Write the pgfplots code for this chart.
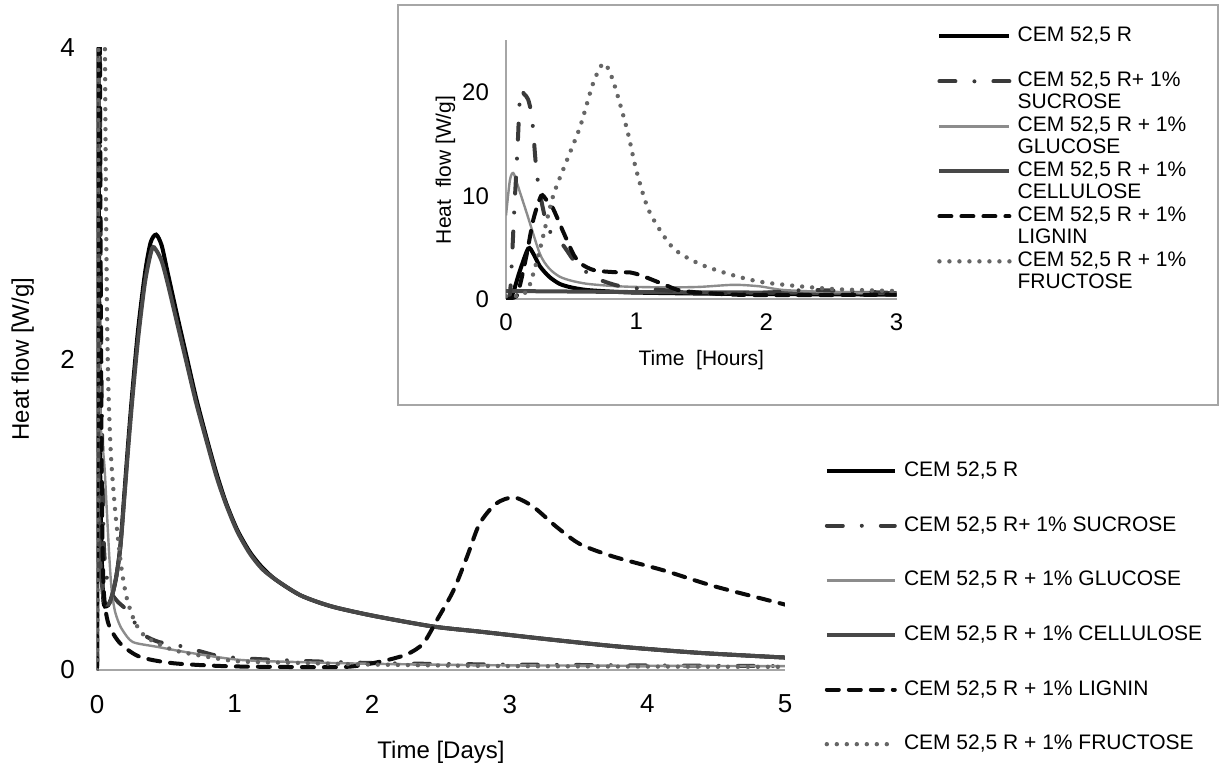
\documentclass[border=0pt]{standalone}
\usepackage{fontspec}
\setmainfont{Liberation Sans}
\usepackage{pgfplots}
\pgfplotsset{compat=1.18}
\definecolor{cSuc}{HTML}{3A3A3A}
\definecolor{cGlu}{HTML}{8C8C8C}
\definecolor{cCel}{HTML}{484848}
\definecolor{cLig}{HTML}{0A0A0A}
\definecolor{cFru}{HTML}{666666}
\definecolor{cAxis}{HTML}{A6A6A6}

\pgfplotsset{
  sCem/.style={black,line width=2pt},
  sSuc/.style={cSuc,line width=2pt,line cap=round,dash pattern=on 8pt off 9.5pt on 0pt off 9.5pt},
  sGlu/.style={cGlu,line width=1.2pt},
  sCel/.style={cCel,line width=2pt},
  sLig/.style={cLig,line width=2pt,line cap=round,dash pattern=on 6pt off 5pt},
  sFru/.style={cFru,line width=2.2pt,line cap=round,dash pattern=on 0pt off 5pt},
}

\begin{document}
\begin{tikzpicture}
\useasboundingbox (-48.5pt,-53pt) rectangle (562pt,335pt);

% main chart, days
\begin{axis}[name=main,at={(0pt,0pt)},anchor=south west,scale only axis,
    width=344pt,height=311pt,
    xmin=0,xmax=5,ymin=0,ymax=4,
    xtick={0,...,5},ytick={0,2,4},
    axis x line*=bottom,axis y line*=left,
    axis line style={draw=cAxis,line width=0.8pt},
    major tick length=0pt,
    /pgf/number format/assume math mode=true,
    tick label style={font=\fontsize{13}{15}\selectfont},
    xticklabel style={yshift=-9pt},
    yticklabel style={xshift=-7.5pt},
    xlabel={Time [Days]},ylabel={Heat flow [W/g]},
    label style={font=\fontsize{12}{14}\selectfont},
    xlabel style={at={(axis description cs:0.5,-0.132)},anchor=center},
    ylabel style={at={(axis description cs:-0.108,0.5)},anchor=center},
    every axis plot/.append style={smooth,tension=0.45},
    legend cell align=left,
    legend image code/.code={\draw[#1] (0pt,0pt) -- (34pt,0pt);},
    legend style={at={(axis description cs:1.057,0.342)},anchor=north west,
        draw=none,fill=none,inner sep=0pt,row sep=13.8pt,column sep=2pt,
        font=\fontsize{10.5}{12}\selectfont,
        nodes={inner xsep=1.5pt,inner ysep=1.5pt,text height=8pt,text depth=2.5pt}},
]
\addplot[sCem] coordinates {(0,0)(0.002,3)(0.007,4.9)(0.012,3.5)(0.02,1.6)(0.03,0.9)(0.046,0.45)(0.07,0.41)(0.09,0.43)(0.11,0.48)(0.14,0.6)(0.17,0.8)(0.2,1.15)(0.23,1.5)(0.26,1.82)(0.3,2.2)(0.35,2.56)(0.39,2.75)(0.43,2.8)(0.47,2.73)(0.51,2.57)(0.58,2.29)(0.65,2.02)(0.72,1.75)(0.8,1.48)(0.87,1.26)(0.94,1.07)(1.02,0.9)(1.11,0.76)(1.2,0.66)(1.3,0.58)(1.48,0.48)(1.7,0.41)(2.0,0.35)(2.44,0.28)(2.8,0.245)(3.15,0.21)(3.41,0.185)(3.8,0.15)(4.38,0.11)(5,0.08)};
\addlegendentry{CEM 52,5 R}
\addplot[sSuc] coordinates {(0,0)(0.0035,15)(0.0046,20)(0.007,19.5)(0.0085,17.5)(0.0098,12.3)(0.014,6.6)(0.018,5)(0.023,3.3)(0.03,2.2)(0.04,1.3)(0.05,0.8)(0.07,0.6)(0.1,0.5)(0.15,0.44)(0.2,0.4)(0.24,0.36)(0.29,0.28)(0.35,0.22)(0.45,0.18)(0.58,0.16)(0.75,0.12)(0.92,0.085)(1.3,0.065)(2,0.045)(3,0.035)(5,0.025)};
\addlegendentry{CEM 52,5 R+ 1\% SUCROSE}
\addplot[sGlu] coordinates {(0,0)(0.001,8)(0.0025,12)(0.006,9)(0.011,4.4)(0.017,2.2)(0.026,1.6)(0.04,1.45)(0.055,1.3)(0.07,1.05)(0.09,0.72)(0.107,0.51)(0.13,0.38)(0.16,0.3)(0.19,0.25)(0.26,0.18)(0.43,0.15)(0.68,0.11)(1.04,0.065)(1.5,0.05)(2,0.04)(3,0.03)(5,0.025)};
\addlegendentry{CEM 52,5 R + 1\% GLUCOSE}
\addplot[sCel] coordinates {(0,0)(0.002,4.5)(0.008,1.8)(0.02,0.8)(0.046,0.47)(0.07,0.42)(0.09,0.43)(0.11,0.48)(0.14,0.6)(0.17,0.79)(0.2,1.12)(0.23,1.46)(0.26,1.77)(0.3,2.14)(0.35,2.5)(0.4,2.71)(0.43,2.7)(0.47,2.63)(0.51,2.5)(0.58,2.24)(0.65,1.98)(0.72,1.72)(0.8,1.46)(0.87,1.24)(0.94,1.06)(1.02,0.89)(1.11,0.75)(1.2,0.65)(1.3,0.58)(1.48,0.48)(1.7,0.41)(2.0,0.35)(2.44,0.28)(2.8,0.245)(3.15,0.21)(3.41,0.185)(3.8,0.15)(4.38,0.11)(5,0.08)};
\addlegendentry{CEM 52,5 R + 1\% CELLULOSE}
\addplot[sLig] coordinates {(0,0)(0.004,4)(0.011,10)(0.016,6)(0.025,3)(0.035,1.2)(0.045,0.6)(0.06,0.4)(0.09,0.28)(0.17,0.17)(0.31,0.085)(0.55,0.044)(0.92,0.025)(1.3,0.02)(1.81,0.02)(2.06,0.054)(2.25,0.1)(2.37,0.17)(2.47,0.32)(2.59,0.51)(2.69,0.73)(2.78,0.94)(2.9,1.07)(3.03,1.11)(3.17,1.05)(3.34,0.92)(3.51,0.81)(3.75,0.73)(4.12,0.64)(4.48,0.54)(4.96,0.43)(5,0.42)};
\addlegendentry{CEM 52,5 R + 1\% LIGNIN}
\addplot[sFru] coordinates {(0,0)(0.0075,1.5)(0.015,9)(0.02,13.5)(0.028,20.9)(0.031,22.8)(0.034,21.2)(0.039,16.4)(0.042,12.5)(0.046,8.5)(0.053,5)(0.062,3.4)(0.073,2.3)(0.083,1.8)(0.1,1.4)(0.12,1.15)(0.14,0.95)(0.18,0.64)(0.22,0.45)(0.28,0.3)(0.36,0.21)(0.55,0.13)(0.8,0.085)(1.04,0.055)(1.5,0.045)(2,0.035)(3,0.025)(5,0.02)};
\addlegendentry{CEM 52,5 R + 1\% FRUCTOSE}
\end{axis}

% inset frame
\draw[cAxis,line width=1pt,fill=white] (150.5pt,132.5pt) rectangle (560.5pt,332.5pt);

% inset chart, hours
\begin{axis}[name=inset,at={(204.5pt,185.35pt)},anchor=south west,scale only axis,
    width=195.3pt,height=129.4pt,
    xmin=0,xmax=3,ymin=0,ymax=25,
    xtick={0,1,2,3},ytick={0,10,20},
    axis x line*=bottom,axis y line*=left,
    axis line style={draw=cAxis,line width=0.8pt},
    major tick length=0pt,
    /pgf/number format/assume math mode=true,
    tick label style={font=\fontsize{12}{14}\selectfont},
    xticklabel style={yshift=-3.5pt},
    yticklabel style={xshift=-5pt},
    xlabel={Time\ \ [Hours]},ylabel={Heat\ \ flow [W/g]},
    label style={font=\fontsize{10.5}{12}\selectfont},
    xlabel style={at={(axis description cs:0.5,-0.235)},anchor=center},
    ylabel style={at={(axis description cs:-0.155,0.5)},anchor=center},
    every axis plot/.append style={smooth,tension=0.45},
    legend cell align=left,
    legend image code/.code={\draw[#1] (0pt,0pt) -- (35pt,0pt);},
    legend style={at={(axis description cs:1.103,1.061)},anchor=north west,
        draw=none,fill=none,inner sep=0pt,row sep=0pt,column sep=1.5pt,
        font=\fontsize{10.5}{12}\selectfont,
        nodes={inner xsep=1.5pt,inner ysep=0pt,text height=8pt,text depth=3.25pt}},
]
\addplot[sCem,forget plot] coordinates {(0,0)(0.05,0.5)(0.1,2.5)(0.17,4.9)(0.21,4.4)(0.26,3.2)(0.33,2.2)(0.41,1.5)(0.5,1.15)(0.62,0.9)(0.8,0.75)(0.98,0.65)(1.5,0.55)(2,0.5)(3,0.45)};
\addplot[sCel,forget plot] coordinates {(0,0.8)(0.5,0.75)(1,0.7)(2,0.65)(3,0.6)};
\addplot[sGlu,forget plot] coordinates {(0,8.1)(0.03,11.5)(0.056,12.2)(0.09,11)(0.16,8.3)(0.26,4.4)(0.33,3.0)(0.41,2.2)(0.5,1.8)(0.62,1.5)(0.8,1.3)(0.98,1.2)(1.25,1.15)(1.49,1.2)(1.75,1.4)(1.95,1.25)(2.13,0.9)(2.5,0.7)(3,0.6)};
\addplot[sSuc,forget plot] coordinates {(0,0)(0.03,0.5)(0.05,5)(0.065,9)(0.077,11.8)(0.09,15)(0.11,20)(0.14,19.8)(0.17,19.3)(0.2,17.5)(0.235,12.3)(0.28,9)(0.33,6.7)(0.44,5.2)(0.55,3.3)(0.7,2)(0.9,1.2)(1.2,0.9)(1.5,0.6)(2,0.65)(2.3,0.9)(2.6,0.8)(3,0.6)};
\addplot[sLig,forget plot] coordinates {(0,0)(0.08,0.3)(0.11,1.5)(0.16,4.4)(0.21,7.7)(0.27,10)(0.31,9.6)(0.36,8.8)(0.44,6.5)(0.52,4.3)(0.58,3.4)(0.68,2.8)(0.86,2.6)(0.95,2.6)(1.04,2.3)(1.22,1.4)(1.36,0.8)(1.75,0.45)(2.2,0.4)(3,0.45)};
\addplot[sFru,forget plot] coordinates {(0,0.3)(0.12,0.4)(0.18,1.3)(0.26,4.8)(0.36,9.9)(0.47,13.5)(0.57,16.7)(0.67,20.9)(0.75,22.8)(0.82,21.2)(0.93,16.4)(1.0,12.5)(1.1,8.5)(1.28,5)(1.49,3.4)(1.75,2.3)(2.0,1.6)(2.5,1.0)(3,0.8)};
\addlegendimage{sCem}\addlegendentry{CEM 52,5 R}
\addlegendimage{empty legend}\addlegendentry{\mbox{}}
\addlegendimage{sSuc}\addlegendentry{CEM 52,5 R+ 1\%}
\addlegendimage{empty legend}\addlegendentry{SUCROSE}
\addlegendimage{sGlu}\addlegendentry{CEM 52,5 R + 1\%}
\addlegendimage{empty legend}\addlegendentry{GLUCOSE}
\addlegendimage{sCel}\addlegendentry{CEM 52,5 R + 1\%}
\addlegendimage{empty legend}\addlegendentry{CELLULOSE}
\addlegendimage{sLig}\addlegendentry{CEM 52,5 R + 1\%}
\addlegendimage{empty legend}\addlegendentry{LIGNIN}
\addlegendimage{sFru}\addlegendentry{CEM 52,5 R + 1\%}
\addlegendimage{empty legend}\addlegendentry{FRUCTOSE}
\end{axis}
\end{tikzpicture}
\end{document}
